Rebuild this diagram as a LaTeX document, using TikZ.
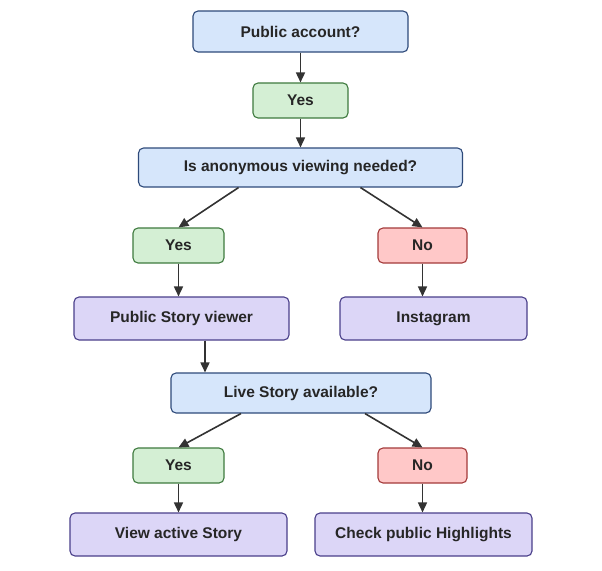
\documentclass[tikz,border=0pt]{standalone}
\usepackage{fontspec}
\setmainfont{Liberation Sans}
\usetikzlibrary{arrows.meta}
\definecolor{bfill}{HTML}{D6E6FB}\definecolor{bdraw}{HTML}{2E4A7A}
\definecolor{gfill}{HTML}{D4EFD4}\definecolor{gdraw}{HTML}{3E7A3E}
\definecolor{rfill}{HTML}{FFC8C8}\definecolor{rdraw}{HTML}{A33A3A}
\definecolor{pfill}{HTML}{DCD6F7}\definecolor{pdraw}{HTML}{4A3F8A}
\definecolor{arr}{HTML}{333333}
\tikzset{
 base/.style={rounded corners=5pt, line width=1.1pt, font=\fontsize{15.5}{18}\selectfont\bfseries, text=black!85, inner sep=0pt, anchor=center},
 qbox/.style={base, fill=bfill, draw=bdraw},
 ybox/.style={base, fill=gfill, draw=gdraw, minimum width=91pt, minimum height=35pt},
 nbox/.style={base, fill=rfill, draw=rdraw, minimum width=89pt, minimum height=35pt},
 pbox/.style={base, fill=pfill, draw=pdraw},
 conn/.style={-{Triangle[length=10pt,width=9pt]}, line width=1.6pt, draw=arr, fill=arr}
}
\begin{document}
\begin{tikzpicture}[x=1pt,y=-1pt]
\useasboundingbox (0,0) rectangle (602,570);
\node[qbox, minimum width=215pt, minimum height=41pt] (q1) at (300.5,31.5) {Public account?};
\node[ybox, minimum width=95pt] (y1) at (300.5,100.5) {Yes};
\node[qbox, minimum width=324pt, minimum height=39pt] (q2) at (300.5,167.5) {Is anonymous viewing needed?};
\node[ybox] (y2) at (178.5,245.5) {Yes};
\node[nbox] (n2) at (422.5,245.5) {No};
\node[pbox, minimum width=215pt, minimum height=43pt] (p1) at (181.5,318.5) {Public Story viewer};
\node[pbox, minimum width=187pt, minimum height=43pt] (p2) at (433.5,318.5) {Instagram};
\node[qbox, minimum width=260pt, minimum height=40pt] (q3) at (301,393) {Live Story available?};
\node[ybox] (y3) at (178.5,465.5) {Yes};
\node[nbox] (n3) at (422.5,465.5) {No};
\node[pbox, minimum width=217pt, minimum height=43pt] (p3) at (178.5,534.5) {View active Story};
\node[pbox, minimum width=217pt, minimum height=43pt] (p4) at (423.5,534.5) {Check public Highlights};
\draw[conn] (q1.south) -- (y1.north);
\draw[conn] (y1.south) -- (q2.north);
\draw[conn] (q2.south) ++(-62,0) coordinate (a1) (a1) -- (y2.north);
\draw[conn] (q2.south) ++(60,0) coordinate (a2) (a2) -- (n2.north);
\draw[conn] (y2.south) -- (p1.north -| y2.south);
\draw[conn] (n2.south) -- (p2.north -| n2.south);
\draw[conn] (p1.south -| 205,0) -- (q3.north -| 205,0);
\draw[conn] (q3.south) ++(-60,0) coordinate (b1) (b1) -- (y3.north);
\draw[conn] (q3.south) ++(64,0) coordinate (b2) (b2) -- (n3.north);
\draw[conn] (y3.south) -- (p3.north -| y3.south);
\draw[conn] (n3.south) -- (p4.north -| n3.south);
\end{tikzpicture}
\end{document}
